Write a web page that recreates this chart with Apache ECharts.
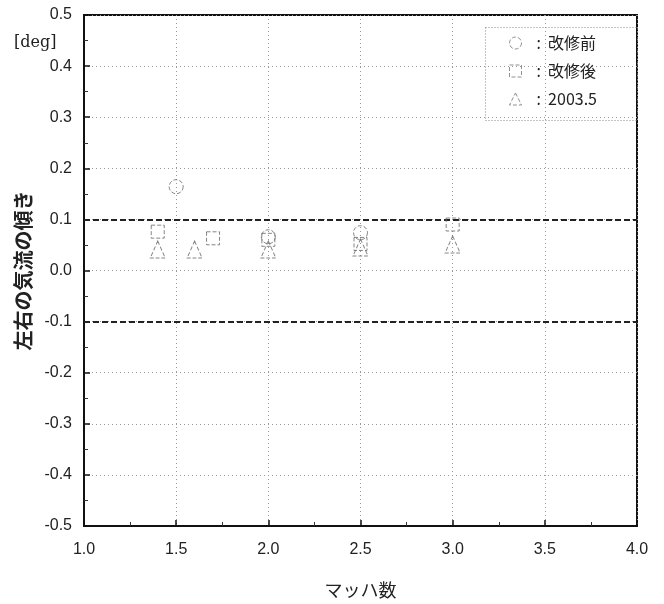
<!DOCTYPE html>
<html><head><meta charset="utf-8">
<script src="https://cdn.jsdelivr.net/npm/echarts@6/dist/echarts.min.js"></script>
<style>html,body{margin:0;padding:0;background:#fff}#c{width:664px;height:604px}</style>
</head><body><div id="c"></div>
<script>
const seriesNames = ['改修前', '改修後', '2003.5'];
const seriesSymbols = ['circle', 'rect', 'triangle'];
const beforeData = [[1.5, 0.164], [2.0, 0.066], [2.5, 0.074]];
const afterData = [[1.4, 0.076], [1.7, 0.063], [2.0, 0.060], [2.5, 0.052], [3.0, 0.090]];
const may2003Data = [[1.4, 0.041], [1.6, 0.041], [2.0, 0.041], [2.5, 0.045], [3.0, 0.051]];
const limitLines = [0.1, -0.1];
const xTicks = {min: 1.0, max: 4.0, interval: 0.5};
const yTicks = {min: -0.5, max: 0.5, interval: 0.1};

const font = 'Liberation Sans, Arial, sans-serif';
const cjk = 'Noto Sans CJK JP, sans-serif';
const allData = [beforeData, afterData, may2003Data];
const symSizes = [14, 13, [15, 17]];
const markStyle = {color: 'rgba(255,255,255,0)', borderColor: '#666', borderWidth: 1, borderType: 'dashed'};

const chart = echarts.init(document.getElementById('c'));
const series = allData.map((d, i) => ({
  name: seriesNames[i],
  type: 'scatter',
  data: d,
  symbol: seriesSymbols[i],
  symbolSize: symSizes[i],
  itemStyle: markStyle,
  z: 5
}));
series.push({
  type: 'line', data: [], silent: true,
  markLine: {
    symbol: 'none', silent: true, label: {show: false},
    lineStyle: {color: '#222', type: [6, 3], width: 2},
    data: limitLines.map(v => ({yAxis: v}))
  }
});

chart.setOption({
  animation: false,
  backgroundColor: '#fff',
  grid: {left: 84, right: 27, top: 15, bottom: 77, show: true, borderColor: '#111', borderWidth: 2, backgroundColor: 'transparent'},
  legend: {
    data: seriesNames.map((n, i) => ({name: n, icon: seriesSymbols[i]})),
    orient: 'vertical', left: 509, top: 35,
    padding: 0, itemGap: 12, itemWidth: 12, itemHeight: 12,
    formatter: n => ':  ' + n,
    textStyle: {fontFamily: cjk, fontSize: 16, lineHeight: 16, color: '#222', padding: [0, 0, 0, 10]},
    itemStyle: {color: 'rgba(255,255,255,0)', borderColor: '#777', borderWidth: 1, borderType: 'dashed'}
  },
  xAxis: {
    type: 'value', min: xTicks.min, max: xTicks.max, interval: xTicks.interval,
    name: 'マッハ数', nameLocation: 'middle', nameGap: 55,
    nameTextStyle: {fontFamily: cjk, fontSize: 18, color: '#222'},
    axisLine: {show: true, onZero: false, lineStyle: {color: '#111', width: 2}},
    axisTick: {inside: true, length: 6, lineStyle: {color: '#111', width: 1.5}},
    minorTick: {show: true, splitNumber: 2, length: 4, lineStyle: {color: '#333'}},
    axisLabel: {formatter: v => v.toFixed(1), fontFamily: font, fontSize: 16, color: '#222', margin: 16},
    splitLine: {show: true, lineStyle: {color: '#999', type: [1, 3], width: 1}}
  },
  yAxis: {
    type: 'value', min: yTicks.min, max: yTicks.max, interval: yTicks.interval,
    name: '左右の気流の傾き', nameLocation: 'middle', nameGap: 51, nameRotate: 90,
    nameTextStyle: {fontFamily: cjk, fontSize: 20, color: '#222', fontWeight: 'bold'},
    axisLine: {show: true, onZero: false, lineStyle: {color: '#111', width: 2}},
    axisTick: {inside: true, length: 6, lineStyle: {color: '#111', width: 1.5}},
    minorTick: {show: true, splitNumber: 2, length: 4, lineStyle: {color: '#333'}},
    axisLabel: {formatter: v => v.toFixed(1), fontFamily: font, fontSize: 16, color: '#222', margin: 12},
    splitLine: {show: true, lineStyle: {color: '#999', type: [1, 3], width: 1}}
  },
  graphic: [{
    type: 'text', left: 14, top: 35,
    style: {text: '[deg]', fontFamily: 'DejaVu Serif, serif', fontSize: 16, fill: '#222'}
  }, {
    type: 'rect', left: 483, top: 25, z: 10,
    shape: {width: 152, height: 93},
    style: {fill: 'none', stroke: '#888', lineWidth: 1, lineDash: [1, 2]}
  }],
  series: series
});
</script></body></html>
